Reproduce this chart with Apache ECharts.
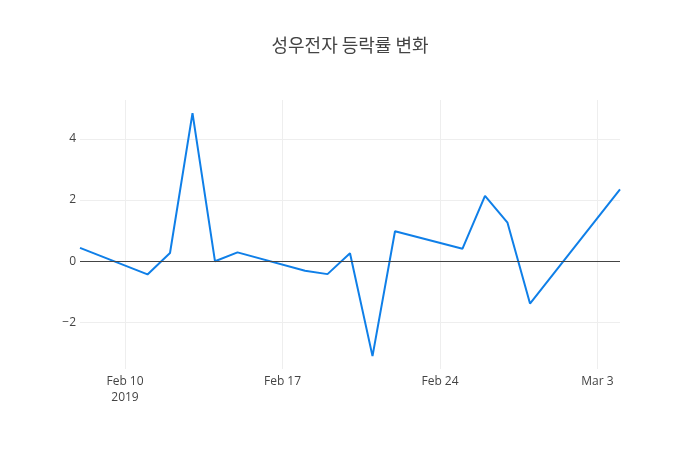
<!DOCTYPE html>
<html>
<head>
<meta charset="utf-8">
<script src="https://cdn.jsdelivr.net/npm/echarts@6/dist/echarts.min.js"></script>
<style>
  html, body { margin: 0; padding: 0; background: #fff; }
  #chart { width: 700px; height: 450px; }
</style>
</head>
<body>
<div id="chart"></div>
<script>
var dates = ['2019-02-08', '2019-02-11', '2019-02-12', '2019-02-13', '2019-02-14', '2019-02-15',
             '2019-02-18', '2019-02-19', '2019-02-20', '2019-02-21', '2019-02-22',
             '2019-02-25', '2019-02-26', '2019-02-27', '2019-02-28', '2019-03-04'];
var changes = [0.44, -0.43, 0.27, 4.84, 0.0, 0.29,
               -0.31, -0.42, 0.26, -3.1, 0.98,
               0.41, 2.14, 1.26, -1.38, 2.35];
var xTicks = ['2019-02-10', '2019-02-17', '2019-02-24', '2019-03-03'];
var yTicks = [-2, 0, 2, 4];
var months = ['Jan', 'Feb', 'Mar', 'Apr', 'May', 'Jun', 'Jul', 'Aug', 'Sep', 'Oct', 'Nov', 'Dec'];

function toTime(s) {
  var p = s.split('-');
  return new Date(+p[0], +p[1] - 1, +p[2]).getTime();
}

var myChart = echarts.init(document.getElementById('chart'));
var firstTick = toTime(xTicks[0]);

var option = {
  animation: false,
  backgroundColor: '#fff',
  textStyle: { fontFamily: 'Open Sans, Noto Sans CJK KR, sans-serif' },
  title: {
    text: '성우전자 등락률 변화',
    left: 'center',
    top: 31,
    textStyle: {
      fontFamily: 'Noto Sans CJK KR, sans-serif',
      fontSize: 18,
      fontWeight: 'normal',
      color: '#444'
    }
  },
  grid: { left: 80, right: 80, top: 100, bottom: 81, containLabel: false },
  xAxis: {
    type: 'value',
    min: toTime('2019-02-08'),
    max: toTime('2019-03-04'),
    axisLine: { show: false },
    axisTick: { show: false, customValues: xTicks.map(toTime) },
    axisLabel: {
      customValues: xTicks.map(toTime),
      color: '#444',
      fontSize: 12,
      margin: 5,
      lineHeight: 16,
      formatter: function (v) {
        var d = new Date(v);
        var s = months[d.getMonth()] + ' ' + d.getDate();
        if (v === firstTick) s += '\n' + d.getFullYear();
        return s;
      }
    },
    splitLine: { show: true, lineStyle: { color: '#eee', width: 1 } }
  },
  yAxis: {
    type: 'value',
    min: -3.52,
    max: 5.27,
    axisLine: { show: false },
    axisTick: { show: false, customValues: yTicks },
    axisLabel: {
      customValues: yTicks,
      color: '#444',
      fontSize: 12,
      margin: 4,
      formatter: function (v) { return v < 0 ? '\u2212' + Math.abs(v) : String(v); }
    },
    splitLine: { show: true, lineStyle: { color: '#eee', width: 1 } }
  },
  series: [{
    type: 'line',
    data: dates.map(function (d, i) { return [toTime(d), changes[i]]; }),
    showSymbol: false,
    lineStyle: { color: '#0f7fe8', width: 2 },
    itemStyle: { color: '#0f7fe8' },
    markLine: {
      silent: true,
      symbol: 'none',
      label: { show: false },
      lineStyle: { color: '#444', width: 1, type: 'solid' },
      data: [{ yAxis: 0 }]
    },
    z: 3
  }]
};
myChart.setOption(option);
</script>
</body>
</html>
